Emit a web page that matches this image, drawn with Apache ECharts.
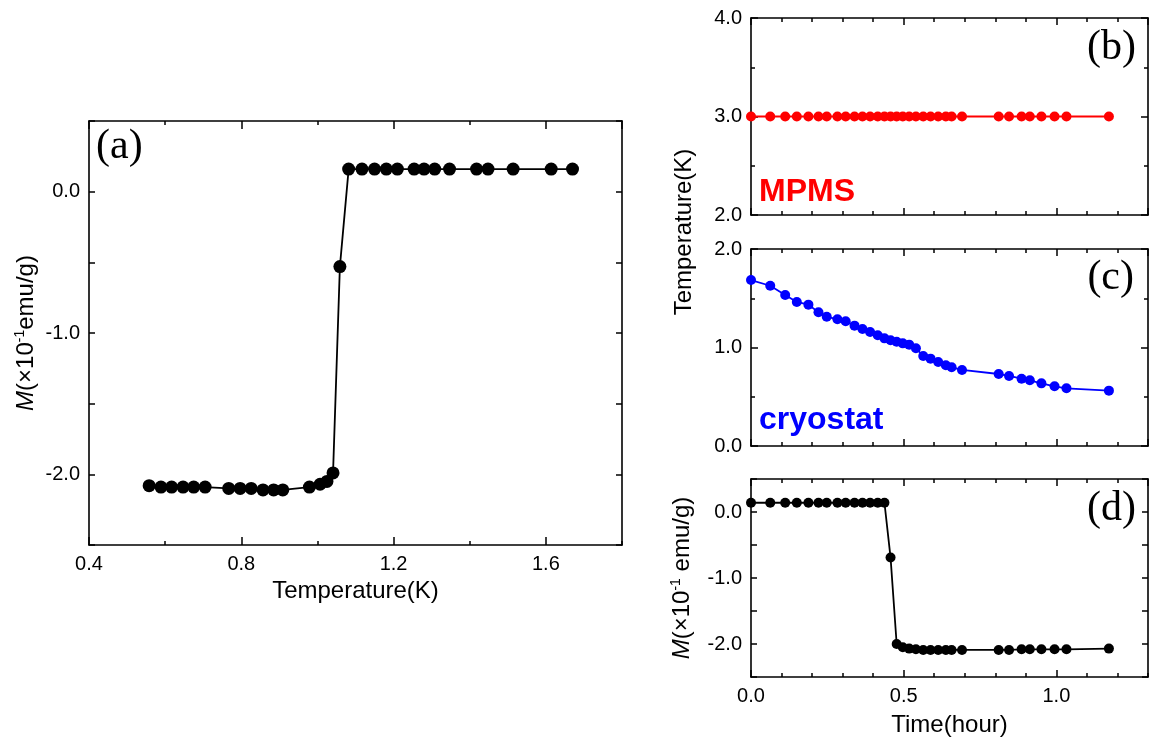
<!DOCTYPE html>
<html>
<head>
<meta charset="utf-8">
<title>M-T MPMS / cryostat</title>
<script src="https://cdn.jsdelivr.net/npm/echarts@6/dist/echarts.min.js"></script>
<style>
html,body{margin:0;padding:0;background:#fff;}
#main{width:1150px;height:745px;}
</style>
</head>
<body>
<div id="main"></div>
<script>
// (a) M vs T
var aTemp = [1.670, 1.614, 1.514, 1.448, 1.418, 1.347, 1.308, 1.280, 1.254, 1.210, 1.181, 1.150, 1.117, 1.082,
             1.059,
             1.041, 1.025, 1.007, 0.979, 0.909, 0.885, 0.857, 0.826, 0.797, 0.767, 0.705, 0.675, 0.647, 0.617, 0.589, 0.558];
var aMoment = [0.16, 0.16, 0.16, 0.16, 0.16, 0.16, 0.16, 0.16, 0.16, 0.16, 0.16, 0.16, 0.16, 0.16,
               -0.53,
               -1.99, -2.05, -2.07, -2.09, -2.11, -2.11, -2.11, -2.10, -2.10, -2.10, -2.09, -2.09, -2.09, -2.09, -2.09, -2.08];

// (b)(c)(d) vs time
var timeH = [0.000, 0.063, 0.112, 0.150, 0.188, 0.221, 0.248, 0.283, 0.310, 0.339, 0.365, 0.390, 0.415, 0.437,
             0.457, 0.477, 0.497, 0.518, 0.540, 0.564, 0.588, 0.613, 0.638, 0.657, 0.691, 0.811, 0.845, 0.886,
             0.913, 0.951, 0.994, 1.033, 1.172];
var mpmsTemp = [3.0, 3.0, 3.0, 3.0, 3.0, 3.0, 3.0, 3.0, 3.0, 3.0, 3.0, 3.0, 3.0, 3.0, 3.0, 3.0, 3.0,
                3.0, 3.0, 3.0, 3.0, 3.0, 3.0, 3.0, 3.0, 3.0, 3.0, 3.0, 3.0, 3.0, 3.0, 3.0, 3.0];
var cryoTemp = [1.685, 1.627, 1.533, 1.462, 1.435, 1.357, 1.313, 1.286, 1.266, 1.222, 1.188, 1.157, 1.124, 1.093,
                1.073, 1.059, 1.042, 1.029, 0.992, 0.914, 0.887, 0.853, 0.819, 0.799, 0.772, 0.731, 0.711, 0.683,
                0.667, 0.636, 0.606, 0.586, 0.562];
var moment = [0.14, 0.14, 0.14, 0.14, 0.14, 0.14, 0.14, 0.14, 0.14, 0.14, 0.14, 0.14, 0.14, 0.14,
              -0.69,
              -2.00, -2.05, -2.07, -2.08, -2.09, -2.09, -2.09, -2.09, -2.09, -2.09, -2.09, -2.09,
              -2.08, -2.08, -2.08, -2.08, -2.08, -2.07];

var FONT = '"Liberation Sans", Arial, sans-serif';
var SERIF = '"Liberation Serif", "Times New Roman", serif';

function pairs(xs, ys){
    var out = [];
    for (var i = 0; i < xs.length; i++) out.push([xs[i], ys[i]]);
    return out;
}

function fix1(v){ return v.toFixed(1); }
// only integer values get a label
function intOnly(v){ return Math.abs(v - Math.round(v)) < 1e-6 ? Math.round(v).toFixed(1) : ''; }

var xAxes = [], yAxes = [];

function addX(grid, pos, min, max, step, len, label, line){
    xAxes.push({
        type: 'value', gridIndex: grid, position: pos, min: min, max: max, interval: step,
        axisLine: {show: line, onZero: false, lineStyle: {color: '#000', width: 1.6}},
        axisTick: {show: true, inside: true, length: len, lineStyle: {color: '#000', width: 1.5}},
        axisLabel: {show: label, showMaxLabel: false, color: '#000', fontSize: 20, fontFamily: FONT, margin: 9, formatter: fix1},
        splitLine: {show: false}
    });
    return xAxes.length - 1;
}

function addY(grid, pos, min, max, step, label, fmt, minor){
    yAxes.push({
        type: 'value', gridIndex: grid, position: pos, min: min, max: max, interval: step,
        axisLine: {show: true, onZero: false, lineStyle: {color: '#000', width: 1.6}},
        axisTick: {show: true, inside: true, length: minor ? 7 : 6, lineStyle: {color: '#000', width: 1.5}},
        minorTick: {show: !!minor, splitNumber: 2, length: 4, lineStyle: {color: '#000', width: 1.5}},
        axisLabel: {show: label, color: '#000', fontSize: 20, fontFamily: FONT, margin: 9, formatter: fmt},
        splitLine: {show: false}
    });
    return yAxes.length - 1;
}

// ---- panel (a)
var ax = addX(0, 'bottom', 0.4, 1.8, 0.4, 8, true, true);
addX(0, 'bottom', 0.4, 1.8, 0.2, 4, false, false);
addX(0, 'top', 0.4, 1.8, 0.4, 8, false, true);
addX(0, 'top', 0.4, 1.8, 0.2, 4, false, false);
xAxes[ax].name = 'Temperature(K)';
xAxes[ax].nameLocation = 'middle';
xAxes[ax].nameGap = 34;
xAxes[ax].nameTextStyle = {color: '#000', fontSize: 24, fontFamily: FONT};

var ay = addY(0, 'left', -2.5, 0.5, 0.5, true, intOnly, false);
addY(0, 'right', -2.5, 0.5, 0.5, false, intOnly, false);

// ---- panels (b)(c)(d), shared time axis
var tx = [];
for (var g = 1; g <= 3; g++){
    tx.push(addX(g, 'bottom', 0, 1.3, 0.5, 7, g == 3, true));
    addX(g, 'bottom', 0, 1.3, 0.1, 4, false, false);
    addX(g, 'top', 0, 1.3, 0.5, 7, false, true);
    addX(g, 'top', 0, 1.3, 0.1, 4, false, false);
}
xAxes[tx[2]].name = 'Time(hour)';
xAxes[tx[2]].nameLocation = 'middle';
xAxes[tx[2]].nameGap = 36;
xAxes[tx[2]].nameTextStyle = {color: '#000', fontSize: 24, fontFamily: FONT};

var by = addY(1, 'left', 2, 4, 1, true, fix1, true);
addY(1, 'right', 2, 4, 1, false, fix1, true);
var cy = addY(2, 'left', 0, 2, 1, true, fix1, true);
addY(2, 'right', 0, 2, 1, false, fix1, true);
var dy = addY(3, 'left', -2.5, 0.5, 0.5, true, intOnly, false);
addY(3, 'right', -2.5, 0.5, 0.5, false, intOnly, false);

var richM = {
    i: {fontStyle: 'italic', fontSize: 24, fontFamily: FONT, color: '#000', lineHeight: 26},
    n: {fontSize: 24, fontFamily: FONT, color: '#000', lineHeight: 26},
    s: {fontSize: 14, fontFamily: FONT, color: '#000', verticalAlign: 'top', lineHeight: 26}
};
yAxes[ay].name = '{i|M}{n|(×10}{s|-1}{n|emu/g)}';
yAxes[ay].nameLocation = 'middle';
yAxes[ay].nameGap = 50;
yAxes[ay].nameTextStyle = {rich: richM};
yAxes[dy].name = '{i|M}{n|(×10}{s|-1}{n| emu/g)}';
yAxes[dy].nameLocation = 'middle';
yAxes[dy].nameGap = 56;
yAxes[dy].nameTextStyle = {rich: richM};

function dots(xi, yi, data, color, size){
    return {
        type: 'line', xAxisIndex: xi, yAxisIndex: yi, data: data,
        symbol: 'circle', symbolSize: size, showSymbol: true,
        itemStyle: {color: color}, lineStyle: {color: color, width: 1.8},
        clip: false, silent: true
    };
}

var option = {
    backgroundColor: '#fff',
    animation: false,
    grid: [
        {left: 89, top: 121, width: 533, height: 424},
        {left: 751, top: 18, width: 397, height: 197},
        {left: 751, top: 249, width: 397, height: 197},
        {left: 751, top: 479, width: 397, height: 198}
    ],
    xAxis: xAxes,
    yAxis: yAxes,
    series: [
        dots(ax, ay, pairs(aTemp, aMoment), '#000', 13),
        dots(tx[0], by, pairs(timeH, mpmsTemp), '#ff0000', 10),
        dots(tx[1], cy, pairs(timeH, cryoTemp), '#0000ff', 10),
        dots(tx[2], dy, pairs(timeH, moment), '#000', 10)
    ],
    graphic: [
        {type: 'text', left: 96, top: 126, style: {text: '(a)', font: '42px ' + SERIF, fill: '#000'}},
        {type: 'text', right: 14, top: 27, style: {text: '(b)', font: '42px ' + SERIF, fill: '#000'}},
        {type: 'text', right: 16, top: 257, style: {text: '(c)', font: '42px ' + SERIF, fill: '#000'}},
        {type: 'text', right: 14, top: 488, style: {text: '(d)', font: '42px ' + SERIF, fill: '#000'}},
        {type: 'text', left: 759, top: 176, style: {text: 'MPMS', font: 'bold 32px ' + FONT, fill: '#ff0000'}},
        {type: 'text', left: 759, top: 404, style: {text: 'cryostat', font: 'bold 32px ' + FONT, fill: '#0000ff'}},
        {type: 'text', x: 684, y: 232, rotation: Math.PI / 2,
         style: {text: 'Temperature(K)', font: '24px ' + FONT, fill: '#000',
                 align: 'center', verticalAlign: 'middle', textAlign: 'center', textVerticalAlign: 'middle'}}
    ]
};

var myChart = echarts.init(document.getElementById('main'));
myChart.setOption(option);
</script>
</body>
</html>
